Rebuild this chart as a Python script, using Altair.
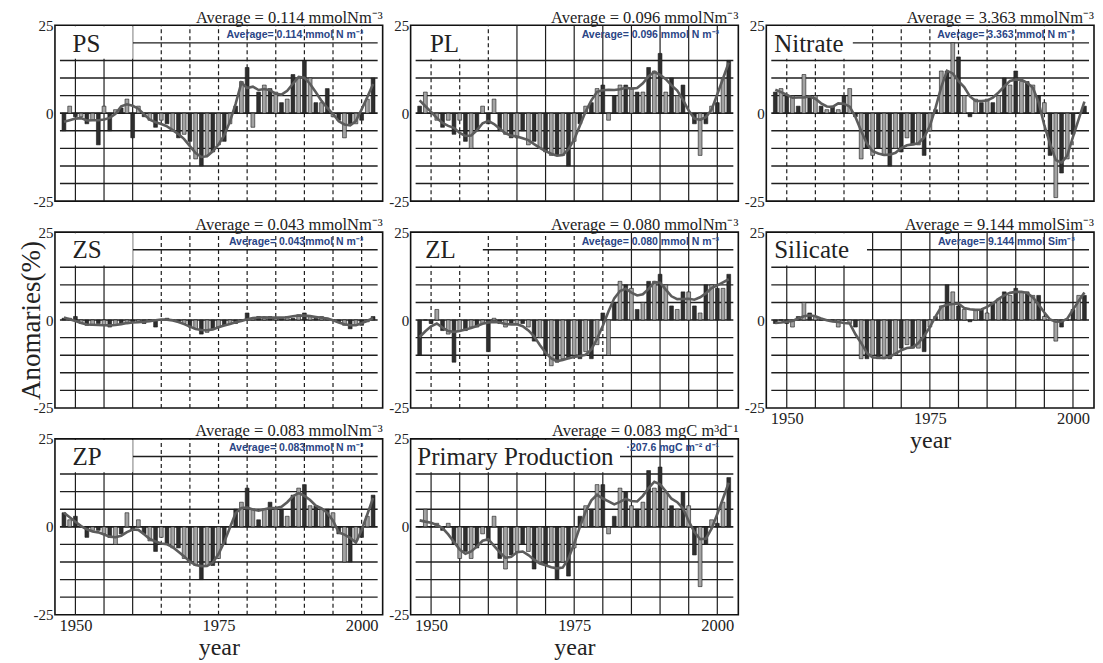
import altair as alt
import pandas as pd

SERIF = "Liberation Serif"

years = list(range(1948, 2003))

ps_vals = [-5, 2, -1, -1, -3, -2, -9, 2, -5, 1,
           1.5, 4, -7, 2, -1, -2, -4, -2, -3, -5,
           -7, -6, -8, -13, -15, -12, -11, -9, -8, -3,
           2, 9, 13, -4, 6, 8, 7, 6, 3, 4,
           11, 10, 15, 10, 3, 3, 7, -1, -2, -7,
           -3, -3, -2, 4, 10]
pl_vals = [2, 6, 0, -2, -4, -2, -6, -2, -8, -10,
           -5, 2, -3, 4, -5, -6, -7, -7, -5, -9,
           -8, -10, -11, -12, -12, -12, -15, -8, -3, 2,
           3, 7, 8, -2, 5, 8, 8, 7, 6, 6,
           13, 12, 17, 6, 10, 5, 8, 0, -3, -12,
           -3, 2, 3, 10, 15]
nitrate_vals = [6, 7, 5, 5, 2, 11, 5, 5, 2, 1,
                2, 1, 5, 7, -1, -13, -10, -12, -10, -12,
                -15, -10, -11, -7, -9, -9, -12, -5, 1, 12,
                12, 20, 16, 5, -1, 4, 3, 4, 3, 5,
                10, 8, 12, 9, 9, 8, 5, 3, -12, -24,
                -17, -13, -6, 0, 2]
zs_vals = [0.5, 0.5, 1, -1, -1.5, -1.5, -1, -1.5, -2, -1.5,
           -1, -1, -0.5, -0.5, -1, 0, -2, 0, 0.5, 0,
           -0.5, -1, -2, -2.5, -4, -3.5, -2.5, -2, -1.5, -1,
           -1, 0, 2, 0.5, 1, 0.5, 1, 0.5, 0.5, 1,
           0.5, 1.5, 2, 1, 0.5, 1, 0.5, 0, -0.5, -1.5,
           -2.5, -1.5, -1.5, -0.5, 1]
zl_vals = [-10, 0, -1, 3, -3, -4, -12, -3, -3, -2,
           -2, -1, -9, 0.5, -1, -2, -1, -1, -1, -2,
           -6, -5, -10, -13, -12, -11, -11, -10, -11, -9,
           -11, -7, 2, -10, 5, 11, 10, 9, 3, 5,
           11, 11, 13, 10, 4, 3, 8, 8, 4, 2,
           10, 10, 9, 9, 13]
silicate_vals = [-1, 0, -1, -2, 1, 5, 2, 1, 0, 0,
                 0, -2, 0, -1, -2, -11, -11, -10, -11, -11,
                 -11, -10, -8, -7, -8, -8, -9, -2, 1, 4,
                 10, 8, 4, 3, -0.5, 3, 3, 2, 5, 6,
                 8, 7, 9, 8, 8, 7, 7, 1, 0, -6,
                 -2, 0, 3, 7, 7]
zp_vals = [4, 2, 3, 0, -3, -1, -1, -2, -3, -5,
           -2, 4, -1, 2, -2, -4, -7, -3, -5, -6,
           -6, -9, -10, -11, -15, -11, -11, -9, -5, 0,
           5, 7, 11, 5, 2, 5, 7, 5, 5, 3,
           9, 11, 12, 6, 6, 5, 5, 4, -2, -10,
           -10, -4, -3, 3, 9]
pp_vals = [0, 5, 0, 1, -1, 1, -5, -9, -7, -9,
           -6, -2, -4, 3, -9, -12, -8, -7, -5, -7,
           -12, -10, -11, -10, -15, -10, -14, -6, 3, 6,
           5, 12, 12, -2, 3, 11, 10, 6, 5, 7,
           16, 11, 17, 10, 6, 5, 10, 6, -8, -17,
           -5, 2, 1, 7, 14]

panel_names = ["PS", "PL", "Nitrate", "ZS", "ZL", "Silicate", "ZP", "Primary Production"]
panel_values = [ps_vals, pl_vals, nitrate_vals, zs_vals, zl_vals, silicate_vals, zp_vals, pp_vals]
panel_titles = [
    "Average = 0.114 mmolNm⁻³",
    "Average = 0.096 mmolNm⁻³",
    "Average = 3.363 mmolNm⁻³",
    "Average = 0.043 mmolNm⁻³",
    "Average = 0.080 mmolNm⁻³",
    "Average = 9.144 mmolSim⁻³",
    "Average = 0.083 mmolNm⁻³",
    "Average = 0.083 mgC m³d⁻¹",
]
panel_notes = [
    "Average= 0.114 mmol N m⁻³",
    "Average= 0.096 mmol N m⁻³",
    "Average= 3.363 mmol N m⁻³",
    "Average= 0.043mmol N m⁻³",
    "Average= 0.080 mmol N m⁻³",
    "Average= 9.144 mmol Sim⁻³",
    "Average= 0.083mmol N m⁻³",
    "·207.6 mgC m⁻² d⁻¹",
]
grid_years = [1950, 1955, 1960, 1965, 1970, 1975, 1980, 1985, 1990, 1995, 2000]
y_levels = [-20, -15, -10, -5, 0, 5, 10, 15]

# style (not data): label placement, label box end, dashed vertical grid lines
label_x = [1949.5, 1949.8, 1947.8, 1949.5, 1949.0, 1947.8, 1949.5, 1947.6]
label_end = [1960, 1957.5, 1961.5, 1960, 1959, 1964, 1960, 1983]
dashed_sets = [
    [1965, 1970, 1975, 1980, 1985, 1990, 1995, 2000],
    [1950, 1955, 1960],
    grid_years,
    [1965, 1970, 1975, 1980, 1985, 1990, 1995, 2000],
    [1950, 1955, 1960, 1965, 1970, 1975, 1980],
    [],
    [1965, 1970, 1975, 1980, 1985, 1990, 1995, 2000],
    [],
]
has_line20 = [True, False, True, True, True, True, True, True]
bottom_panels = ["Silicate", "ZP", "Primary Production"]

XDOM = [1947.3, 2002.8]
W, H = 328, 176

xscale = alt.Scale(domain=XDOM, nice=False, zero=False)
yscale = alt.Scale(domain=[-25, 25], nice=False, zero=False)


def make_panel(i):
    name = panel_names[i]
    df = pd.DataFrame({"year": years, "value": panel_values[i], "base": [0] * len(years)})
    bottom = name in bottom_panels
    if bottom:
        xaxis = alt.Axis(values=[1950, 1975, 2000], format="d", labelFontSize=16.5,
                         labelPadding=3, labelOverlap=False, title="year",
                         titleFontSize=24, titlePadding=1)
    else:
        xaxis = None
    if name == "ZS":
        yaxis = alt.Axis(values=[-25, 0, 25], labelExpr="datum.value + ''", labelFontSize=15,
                         labelPadding=2, labelOverlap=False, title="Anomaries(%)",
                         titleFontSize=27, titleAngle=270, titleX=-15, titleY=H / 2,
                         titleAlign="center", titleBaseline="alphabetic")
    else:
        yaxis = alt.Axis(values=[-25, 0, 25], labelExpr="datum.value + ''", labelFontSize=15,
                         labelPadding=2, labelOverlap=False, title=None)

    def X(f):
        return alt.X(f, scale=xscale, axis=xaxis)

    def Y(f):
        return alt.Y(f, scale=yscale, axis=yaxis)

    hg_rows = []
    for lv in y_levels:
        hg_rows.append({"y": lv, "x1": XDOM[0], "x2": XDOM[1], "zero": lv == 0})
    if has_line20[i]:
        hg_rows.append({"y": 20, "x1": label_end[i], "x2": XDOM[1], "zero": False})
    hg = pd.DataFrame(hg_rows)
    vg = pd.DataFrame({"x": grid_years, "yb": [-25] * len(grid_years), "yt": [25] * len(grid_years),
                       "dashed": [g in dashed_sets[i] for g in grid_years]})
    ann = pd.DataFrame({"bx0": [XDOM[0] + 0.2], "bx1": [label_end[i]], "by0": [15.5], "by1": [24.7],
                        "lx": [label_x[i]], "ly": [19.8], "nx": [2000.3], "ny": [22.3]})

    hgrid = alt.Chart(hg).mark_rule(color="#1e1e1e").encode(
        x=X("x1:Q"), x2="x2:Q", y=Y("y:Q"),
        strokeWidth=alt.condition("datum.zero", alt.value(1.7), alt.value(1.4)),
    )
    vgrid = alt.Chart(vg).mark_rule(color="#1e1e1e", strokeWidth=1.2).encode(
        x=X("x:Q"), y=Y("yb:Q"), y2="yt:Q",
        strokeDash=alt.condition("datum.dashed", alt.value([4, 3]), alt.value([1, 0])),
    )
    box = alt.Chart(ann).mark_rect(color="white").encode(
        x=X("bx0:Q"), x2="bx1:Q", y=Y("by0:Q"), y2="by1:Q",
    )
    bars = alt.Chart(df).mark_bar(size=3.8, stroke="#1a1a1a", strokeWidth=0.6).encode(
        x=X("year:Q"), y=Y("value:Q"), y2="base:Q",
        color=alt.condition("datum.year % 2 == 0", alt.value("#2e2e2e"), alt.value("#a3a3a3")),
    )
    smooth = alt.Chart(df).transform_loess("year", "value", bandwidth=0.14).mark_line(
        color="#5c5c5c", strokeWidth=2.6
    ).encode(x=X("year:Q"), y=Y("value:Q"))
    label = alt.Chart(ann).mark_text(
        align="left", baseline="middle", font=SERIF, fontSize=25, color="#222222", text=name
    ).encode(x=X("lx:Q"), y=Y("ly:Q"))
    note = alt.Chart(ann).mark_text(
        align="right", baseline="middle", font="Liberation Sans", fontSize=10.5,
        fontWeight="bold", color="#2a4585", text=panel_notes[i]
    ).encode(x=X("nx:Q"), y=Y("ny:Q"))

    return alt.layer(hgrid, vgrid, box, bars, smooth, label, note).properties(
        width=W, height=H,
        title=alt.TitleParams(panel_titles[i], anchor="end", font=SERIF, fontSize=16.5,
                              fontWeight="normal", color="#222222", offset=-8),
    )


charts = [make_panel(i) for i in range(len(panel_names))]

chart = alt.concat(
    *charts, columns=3, bounds="flush", spacing={"row": 31, "column": 28}
).properties(
    padding={"left": 9, "top": 0, "right": 0, "bottom": 0}, background="white"
).configure_view(
    stroke="#111111", strokeWidth=1.6
).configure_axis(
    grid=False, ticks=False, domain=False, labelFont=SERIF, labelColor="#222222",
    titleFont=SERIF, titleColor="#222222", titleFontWeight="normal", labelFlush=False
)

chart.save("out.html", embed_options={"renderer": "svg", "actions": False})
